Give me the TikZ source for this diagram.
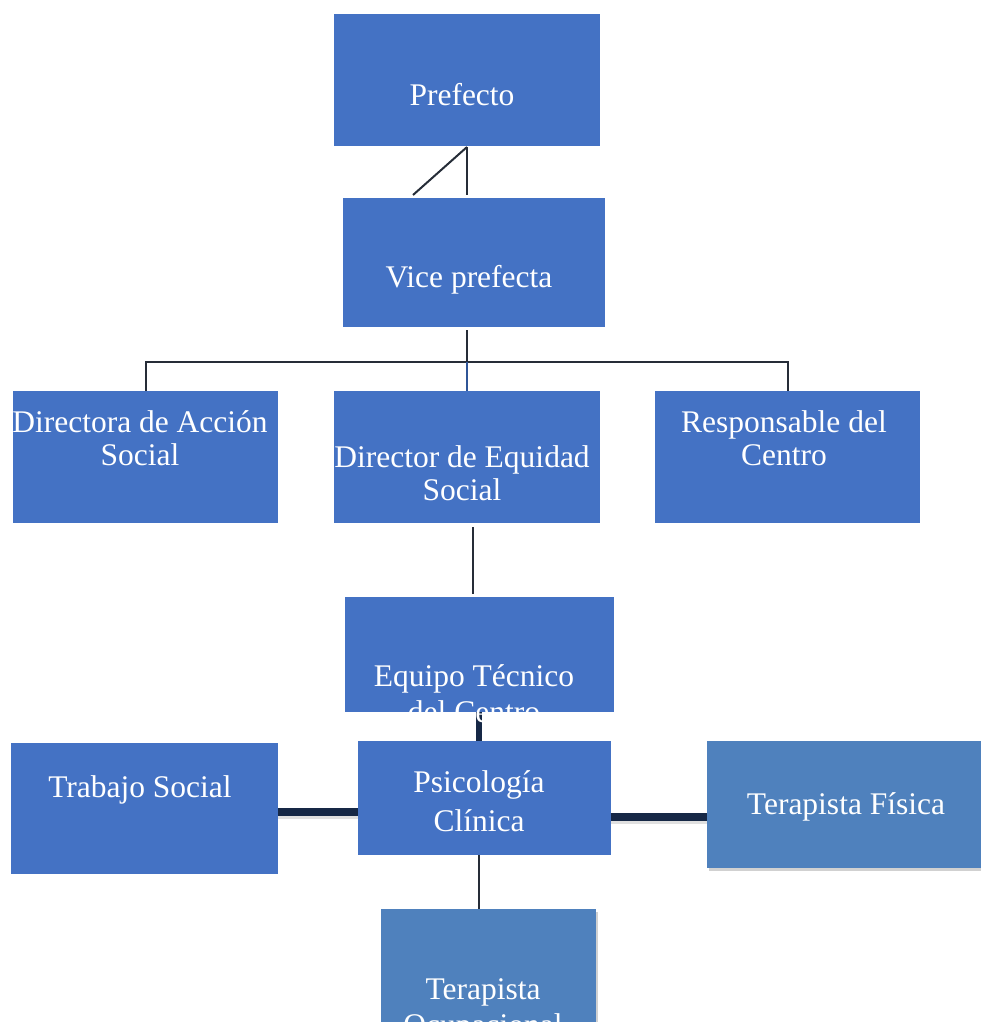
\documentclass[tikz,border=0pt]{standalone}
\usepackage{fontspec}
\setmainfont{Liberation Serif}
\usetikzlibrary{shadows}
\definecolor{boxblue}{RGB}{68,114,196}
\definecolor{boxblueb}{RGB}{79,129,189}
\definecolor{linedark}{RGB}{38,45,56}
\definecolor{linenavy}{RGB}{22,40,70}
\definecolor{legblue}{RGB}{47,85,151}
\tikzset{
  x=1pt, y=1pt,
  orgbox/.style={rectangle, fill=boxblue, draw=none, inner sep=0pt, outer sep=0pt, anchor=north west},
  orgboxb/.style={orgbox, fill=boxblueb, drop shadow={shadow xshift=1.5pt, shadow yshift=-2.5pt, opacity=0.18, fill=black}},
  txt/.style={text=white, inner sep=0pt, anchor=base, font=\fontsize{31.5}{34}\selectfont},
  thin/.style={draw=linedark, line width=2pt},
  thick/.style={draw=linenavy, line width=8pt},
  thickshadow/.style={draw=black, opacity=0.12, line width=9pt},
}
\begin{document}
\begin{tikzpicture}
\useasboundingbox (0,0) rectangle (981,-1022);
\fill[white] (0,0) rectangle (981,-1022);

% ---- boxes (drawn as empty nodes, text placed line by line) ----
\node[orgbox, minimum width=266pt, minimum height=132pt] (pref) at (334,-14) {};
\node[orgbox, minimum width=262pt, minimum height=129pt] (vice) at (343,-198) {};
\node[orgbox, minimum width=265pt, minimum height=132pt] (acc) at (13,-391) {};
\node[orgbox, minimum width=266pt, minimum height=132pt] (equi) at (334,-391) {};
\node[orgbox, minimum width=265pt, minimum height=132pt] (resp) at (655,-391) {};
\node[orgbox, minimum width=269pt, minimum height=115pt] (equipo) at (345,-597) {};
\node[orgbox, minimum width=253pt, minimum height=114pt] (psico) at (358,-741) {};
\node[orgbox, minimum width=267pt, minimum height=131pt] (trab) at (11,-743) {};

% ---- connectors ----
\coordinate (pv) at (467,-147);
\coordinate (vtopL) at (413,-195);
\coordinate (vtopM) at (467,-195);
\draw[thin] (pv) -- (vtopM);
\draw[thin] (pv) -- (vtopL);

\coordinate (vb) at (467,-330);
\coordinate (bar) at (467,-362);
\coordinate (barL) at (146,-362);
\coordinate (barR) at (788,-362);
\draw[thin] (vb) -- (bar);
\draw[thin] (barL |- acc.north) -- (barL) -- (barR) -- (barR |- resp.north);
\draw[draw=legblue, line width=1.6pt] (bar) -- (bar |- equi.north);

\draw[thin] (473,-527) -- (473,-594);
\draw[draw=linenavy, line width=6pt] (479,-712) -- (479,-741);

% thick side connectors with soft shadow
\draw[thickshadow] (trab.east |- 0,-814) -- (psico.west |- 0,-814);
\draw[thick] (trab.east |- 0,-812) -- (psico.west |- 0,-812);
\draw[thickshadow] (psico.east |- 0,-819) -- (707,-819);
\draw[thick] (psico.east |- 0,-817) -- (707,-817);

\draw[thin] (479,-855) -- (479,-909);

% boxes with shadow drawn after connectors
\node[orgboxb, minimum width=285pt, minimum height=127pt] (fis) at (707,-741) {};
\node[orgboxb, minimum width=215pt, minimum height=125pt] (ocu) at (381,-909) {};

% ---- texts ----
\node[txt] (t-pref) at (462,-106) {Prefecto};
\node[txt] (t-vice) at (469,-287) {Vice prefecta};
\node[txt] (t-acc1) at (140,-432) {Directora de Acción};
\node[txt] (t-acc2) at (140,-465) {Social};
\node[txt] (t-equi1) at (462,-467) {Director de Equidad};
\node[txt] (t-equi2) at (462,-500) {Social};
\node[txt] (t-resp1) at (784,-432) {Responsable del};
\node[txt] (t-resp2) at (784,-465) {Centro};
\node[txt] (t-equipo1) at (474,-686) {Equipo Técnico};
\node[txt] (t-equipo2) at (474,-722) {del Centro};
\node[txt] (t-psico1) at (479,-792) {Psicología};
\node[txt] (t-psico2) at (479,-831) {Clínica};
\node[txt] (t-trab) at (140,-797) {Trabajo Social};
\node[txt] (t-fis) at (846,-814) {Terapista Física};
\node[txt] (t-ocu1) at (483,-999) {Terapista};
\node[txt] (t-ocu2) at (483,-1035) {Ocupacional};
\end{tikzpicture}
\end{document}
